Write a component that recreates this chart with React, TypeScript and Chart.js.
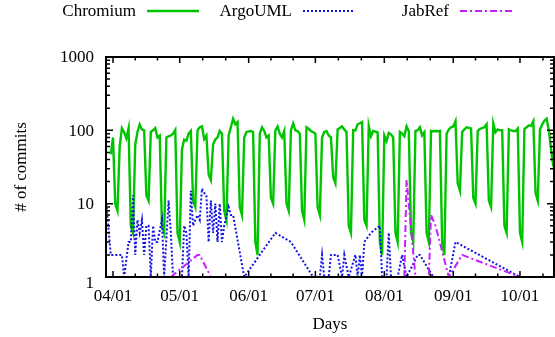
import { useEffect, useRef } from 'react';
import { Chart, registerables } from 'chart.js';
Chart.register(...registerables);

// Day index 0 = 04/01
const monthDays = [0, 30, 61, 91, 122, 153, 183, 214];
const monthLabels = ['04/01', '05/01', '06/01', '07/01', '08/01', '09/01', '10/01', '11/01'];
const yTickValues = [1, 10, 100, 1000];
const yTickLabels = ['1', '10', '100', '1000'];

const seriesNames = ['Chromium', 'ArgoUML', 'JabRef'];

// Chromium: daily commits starting at day -1 (03/31)
const chromiumStart = -1;
const chromiumValues = [
  47, 80,
  10, 8, 60, 107, 94, 78, 107,
  5, 4, 64, 95, 120, 103, 100,
  13, 11, 95, 100, 107, 80, 85,
  5, 4, 80, 83, 85, 90, 101,
  4, 3, 55, 75, 72, 90, 98,
  11, 9, 100, 110, 113, 76, 85,
  25, 21, 64, 75, 80, 98, 90,
  8, 6, 85, 110, 144, 121, 130,
  9, 7, 80, 95, 97, 98, 95,
  3, 2, 90, 110, 98, 80, 85,
  12, 10, 100, 113, 90, 80, 98,
  10, 8, 100, 124, 100, 98, 90,
  8, 6, 110, 105, 98, 94, 90,
  9, 7, 80, 95, 98, 85, 80,
  23, 19, 103, 108, 113, 103, 95,
  5, 4, 101, 100, 121, 125, 130,
  6, 5, 115, 83, 98, 96, 94,
  3, 2, 85, 71, 92, 88, 80,
  4, 3, 95, 90, 83, 113, 98,
  4, 3, 98, 100, 110, 85, 94,
  4, 3, 98, 97, 98, 97, 98,
  3, 2, 90, 103, 110, 113, 133,
  19, 15, 95, 103, 110, 108, 106,
  12, 10, 98, 105, 107, 110, 121,
  11, 9, 124, 94, 103, 100, 101,
  5, 4, 103, 100, 98, 98, 106,
  4, 3, 105, 110, 117, 115, 133,
  14, 11, 103, 120, 136, 144, 98,
  55, 32,
];

// ArgoUML: sparse days with commits
const argoDays = [
  -3, -1, 4, 5, 7, 8, 9, 10, 11, 12, 13, 14, 15, 16, 17, 18, 19, 20, 22, 23,
  25, 26, 27, 31, 32, 33, 34, 35, 36, 37, 38, 39, 40, 41, 42, 43, 44, 45, 46, 47,
  48, 49, 50, 52, 53, 54, 59, 73, 80, 90, 93, 94, 95, 97, 98, 101, 103, 104, 106, 109,
  110, 111, 112, 113, 116, 120, 121, 123, 124, 125, 128, 130, 132, 137, 138, 144, 151, 154, 183,
];
const argoValues = [
  10, 2, 2, 1, 3, 3, 13, 2, 6, 4, 6, 2, 5, 5, 1, 5, 3, 3, 6, 1,
  11, 4, 1, 1, 5, 4, 1, 15, 5, 6, 7, 6, 16, 14, 13, 3, 11, 4, 10, 3,
  10, 3, 5, 9, 7, 7, 1, 4, 3, 1, 1, 2, 1, 1, 2, 2, 1, 2, 1, 2,
  1, 2, 1, 3, 4, 5, 1, 1, 4, 1, 1, 2, 1, 2, 2, 1, 1, 3, 1,
];

// JabRef
const jabrefDays = [26, 38, 39, 44, 131, 132, 133, 136, 142, 143, 145, 151, 157, 183];
const jabrefValues = [1, 2, 2, 1, 1, 21, 10, 1, 1, 7, 5, 1, 2, 1];

const X_MIN = -3.15;
const X_MAX = 198.3;

const FONT = '"Liberation Serif", "Times New Roman", serif';
const FONT_SIZE = 17;

const COLORS = ['#00c400', '#1414e0', '#c81eff'];
const DASHES: number[][] = [[], [2, 2], [7, 3, 2, 3]];
const WIDTHS = [2.4, 2, 2];

const axesPlugin = {
  id: 'gnuplotAxes',
  afterDraw(chart: any) {
    const { ctx, chartArea: a, scales } = chart;
    const xs = scales.x;
    const ys = scales.y;
    ctx.save();
    ctx.strokeStyle = '#000';
    ctx.lineWidth = 1.5;
    ctx.setLineDash([]);
    ctx.beginPath();
    // y ticks (major + minor), left and right, pointing inward
    for (let e = 0; e < 3; e++) {
      for (let m = 1; m <= 9; m++) {
        const v = m * Math.pow(10, e);
        const p = ys.getPixelForValue(v);
        const len = m === 1 ? 7 : 4;
        ctx.moveTo(a.left, p); ctx.lineTo(a.left + len, p);
        ctx.moveTo(a.right, p); ctx.lineTo(a.right - len, p);
      }
    }
    // x ticks: months (major) and thirds (minor), bottom and top
    for (let i = 0; i < monthDays.length; i++) {
      const d = monthDays[i];
      if (d >= X_MIN && d <= X_MAX) {
        const p = xs.getPixelForValue(d);
        ctx.moveTo(p, a.bottom); ctx.lineTo(p, a.bottom - 6);
        ctx.moveTo(p, a.top); ctx.lineTo(p, a.top + 6);
      }
      if (i < monthDays.length - 1) {
        const step = (monthDays[i + 1] - d) / 3;
        for (let j = 1; j < 3; j++) {
          const dm = d + step * j;
          if (dm < X_MIN || dm > X_MAX) continue;
          const p = xs.getPixelForValue(dm);
          ctx.moveTo(p, a.bottom); ctx.lineTo(p, a.bottom - 3.5);
          ctx.moveTo(p, a.top); ctx.lineTo(p, a.top + 3.5);
        }
      }
    }
    ctx.stroke();
    // border
    ctx.lineWidth = 2;
    ctx.strokeRect(a.left, a.top, a.right - a.left, a.bottom - a.top);

    // labels
    ctx.fillStyle = '#000';
    ctx.font = `${FONT_SIZE}px ${FONT}`;
    ctx.textAlign = 'right';
    ctx.textBaseline = 'middle';
    yTickValues.forEach((v, i) => {
      const p = ys.getPixelForValue(v);
      const off = i === 0 ? 7 : 1;
      ctx.fillText(yTickLabels[i], a.left - 12, p + off);
    });
    ctx.textAlign = 'center';
    monthDays.forEach((d, i) => {
      if (d < X_MIN || d > X_MAX) return;
      const p = xs.getPixelForValue(d);
      ctx.fillText(monthLabels[i], p, a.bottom + 20);
    });
    // axis titles
    ctx.fillText('Days', (a.left + a.right) / 2, 325);
    ctx.save();
    ctx.translate(22, (a.top + a.bottom) / 2);
    ctx.rotate(-Math.PI / 2);
    ctx.fillText('# of commits', 0, 0);
    ctx.restore();

    // key (legend)
    const textRight = [136, 292, 449];
    seriesNames.forEach((name, i) => {
      ctx.textAlign = 'right';
      ctx.fillStyle = '#000';
      ctx.fillText(name, textRight[i], 12);
      ctx.beginPath();
      ctx.strokeStyle = COLORS[i];
      ctx.lineWidth = WIDTHS[i];
      ctx.setLineDash(DASHES[i]);
      ctx.moveTo(textRight[i] + 11, 11);
      ctx.lineTo(textRight[i] + 63, 11);
      ctx.stroke();
    });
    ctx.restore();
  },
};

export default function App() {
  const ref = useRef<HTMLCanvasElement>(null);
  useEffect(() => {
    const chromiumPts = chromiumValues.map((v, i) => ({ x: chromiumStart + i, y: v }));
    const argoPts = argoDays.map((d, i) => ({ x: d, y: argoValues[i] }));
    const jabPts = jabrefDays.map((d, i) => ({ x: d, y: jabrefValues[i] }));
    const all = [chromiumPts, argoPts, jabPts];
    const chart = new Chart(ref.current!, {
      type: 'line',
      data: {
        datasets: all.map((pts, i) => ({
          label: seriesNames[i],
          data: pts,
          borderColor: COLORS[i],
          backgroundColor: COLORS[i],
          borderWidth: WIDTHS[i],
          borderDash: DASHES[i],
          pointRadius: 0,
          tension: 0,
          fill: false,
          order: 3 - i,
        })),
      },
      options: {
        responsive: false,
        animation: false,
        devicePixelRatio: 1,
        layout: { padding: { left: 106, right: 1, top: 57, bottom: 60 } },
        scales: {
          x: { type: 'linear', display: false, min: X_MIN, max: X_MAX },
          y: { type: 'logarithmic', display: false, min: 1, max: 1000 },
        },
        plugins: { legend: { display: false }, tooltip: { enabled: false } },
      },
      plugins: [axesPlugin],
    });
    return () => chart.destroy();
  }, []);
  return (
    <div style={{ position: 'absolute', left: 0, top: 0, width: 555, height: 337, background: '#fff' }}>
      <canvas ref={ref} width={555} height={337} style={{ display: 'block', width: 555, height: 337 }} />
    </div>
  );
}
